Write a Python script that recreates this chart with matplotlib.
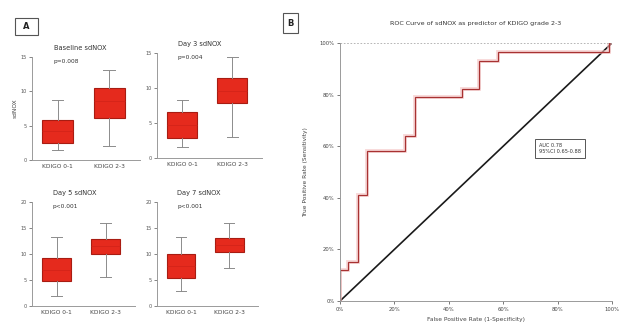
import matplotlib
matplotlib.use("Agg")
import matplotlib.pyplot as plt
from matplotlib.patches import Rectangle

# ---------------- data ----------------
groups = ["KDIGO 0-1", "KDIGO 2-3"]
panel_titles = ["Baseline sdNOX", "Day 3 sdNOX", "Day 5 sdNOX", "Day 7 sdNOX"]
panel_pvals = ["p=0.008", "p=0.004", "p<0.001", "p<0.001"]

# per panel: [group1, group2] values for whislo, q1, med, q3, whishi
whislo = [[1.5, 2.0], [1.6, 3.0], [1.9, 5.6], [2.9, 7.3]]
q1 = [[2.5, 6.1], [2.9, 7.9], [4.8, 10.0], [5.4, 10.4]]
med = [[4.2, 8.6], [4.7, 9.6], [6.9, 11.5], [7.7, 11.7]]
q3 = [[5.8, 10.5], [6.6, 11.4], [9.2, 12.9], [10.0, 13.1]]
whishi = [[8.7, 13.1], [8.3, 14.4], [13.3, 16.0], [13.3, 16.0]]

y_ticks_top = [0, 5, 10, 15]
y_ticks_bottom = [0, 5, 10, 15, 20]

roc_fpr = [0.0, 0.0, 0.03, 0.03, 0.065, 0.065, 0.10, 0.10, 0.24, 0.24, 0.275, 0.275,
           0.45, 0.45, 0.51, 0.51, 0.58, 0.58, 0.99, 0.99, 1.0]
roc_tpr = [0.0, 0.12, 0.12, 0.15, 0.15, 0.41, 0.41, 0.58, 0.58, 0.64, 0.64, 0.79,
           0.79, 0.82, 0.82, 0.93, 0.93, 0.965, 0.965, 1.0, 1.0]
roc_ticks = [0, 0.2, 0.4, 0.6, 0.8, 1.0]
roc_ticklabels = ["0%", "20%", "40%", "60%", "80%", "100%"]
auc_text = "AUC 0.78\n95%CI 0.65-0.88"

# ---------------- figure ----------------
W, H = 622, 327
fig = plt.figure(figsize=(W / 100, H / 100), dpi=100)
fig.patch.set_facecolor("white")

def fax(x0, y0, x1, y1):
    return fig.add_axes([x0 / W, 1 - y1 / H, (x1 - x0) / W, (y1 - y0) / H])

axis_col = "#9a9a9a"
fs = 4.2

box_rects = [(32, 57, 140, 160), (157, 53, 262, 158), (32, 202, 135, 306), (157, 202, 258, 306)]
for i, r in enumerate(box_rects):
    ax = fax(*r)
    stats = []
    for g in range(2):
        stats.append(dict(whislo=whislo[i][g], q1=q1[i][g], med=med[i][g],
                          q3=q3[i][g], whishi=whishi[i][g], fliers=[], label=groups[g]))
    ax.bxp(stats, positions=[1, 2], widths=0.6, patch_artist=True, showfliers=False,
           boxprops=dict(facecolor="#e52a1d", edgecolor="#a81c12", linewidth=0.8),
           medianprops=dict(color="#d42419", linewidth=0.6),
           whiskerprops=dict(color="#8c8c8c", linewidth=0.7),
           capprops=dict(color="#8c8c8c", linewidth=0.7), capwidths=0.22)
    ax.set_xlim(0.5, 2.6)
    if i < 2:
        ax.set_ylim(0, 15)
        ax.set_yticks(y_ticks_top)
    else:
        ax.set_ylim(0, 20)
        ax.set_yticks(y_ticks_bottom)
    for s in ["top", "right"]:
        ax.spines[s].set_visible(False)
    for s in ["left", "bottom"]:
        ax.spines[s].set_color(axis_col)
        ax.spines[s].set_linewidth(0.7)
    ax.tick_params(axis="both", labelsize=3.5, colors="#555555", length=2, width=0.5, pad=1.5)
    ax.tick_params(axis="x", length=0, pad=3)
    ax.set_xticks([1, 2])
    ax.set_xticklabels(groups, fontsize=fs, color="#444444")
    ax.text(0.2, 1.09, panel_titles[i], transform=ax.transAxes, fontsize=fs + 0.6,
            color="#333333", ha="left", va="center")
    ax.text(0.2, 0.96, panel_pvals[i], transform=ax.transAxes, fontsize=fs,
            color="#333333", ha="left", va="center")
    if i == 0:
        ax.set_ylabel("sdNOX", fontsize=fs, color="#444444", labelpad=2)

# panel labels
for (x0, y0, x1, y1, lab) in [(15, 18, 38, 35, "A"), (283, 13, 298, 33, "B")]:
    fig.patches.append(Rectangle((x0 / W, 1 - y1 / H), (x1 - x0) / W, (y1 - y0) / H,
                                 transform=fig.transFigure, fill=False,
                                 edgecolor="#555555", linewidth=0.8))
    fig.text((x0 + x1) / 2 / W, 1 - (y0 + y1) / 2 / H, lab, fontsize=6,
             fontweight="bold", ha="center", va="center", color="#222222")

# ROC
ax = fax(340, 43, 612, 301)
ax.plot([0, 1], [0, 1], color="#1a1a1a", linewidth=1.2)
ax.plot(roc_fpr, roc_tpr, color="#f4c0c0", linewidth=2.8, alpha=0.6, solid_joinstyle="miter")
ax.plot(roc_fpr, roc_tpr, color="#a83232", linewidth=0.9, solid_joinstyle="miter")
ax.set_xlim(0, 1)
ax.set_ylim(0, 1)
ax.set_xticks(roc_ticks)
ax.set_xticklabels(roc_ticklabels)
ax.set_yticks(roc_ticks)
ax.set_yticklabels(roc_ticklabels)
ax.axhline(1.0, color="#aaaaaa", linewidth=0.6, linestyle=(0, (2, 2)))
for s in ["top", "right"]:
    ax.spines[s].set_visible(False)
for s in ["left", "bottom"]:
    ax.spines[s].set_color(axis_col)
    ax.spines[s].set_linewidth(0.7)
ax.tick_params(axis="both", labelsize=3.8, colors="#444444", length=2, width=0.5, pad=2)
ax.set_xlabel("False Positive Rate (1-Specificity)", fontsize=fs, color="#444444", labelpad=4)
ax.set_ylabel("True Positive Rate (Sensitivity)", fontsize=fs, color="#444444", labelpad=8)
ax.set_title("ROC Curve of sdNOX as predictor of KDIGO grade 2-3", fontsize=fs + 0.4,
             color="#333333", pad=13)
ax.text(0.73, 0.59, auc_text, transform=ax.transAxes, fontsize=3.6, color="#333333",
        ha="left", va="center", linespacing=1.3,
        bbox=dict(boxstyle="square,pad=0.8", facecolor="white", edgecolor="#555555",
                  linewidth=0.7))

fig.savefig("out.png", dpi=100, facecolor="white")
